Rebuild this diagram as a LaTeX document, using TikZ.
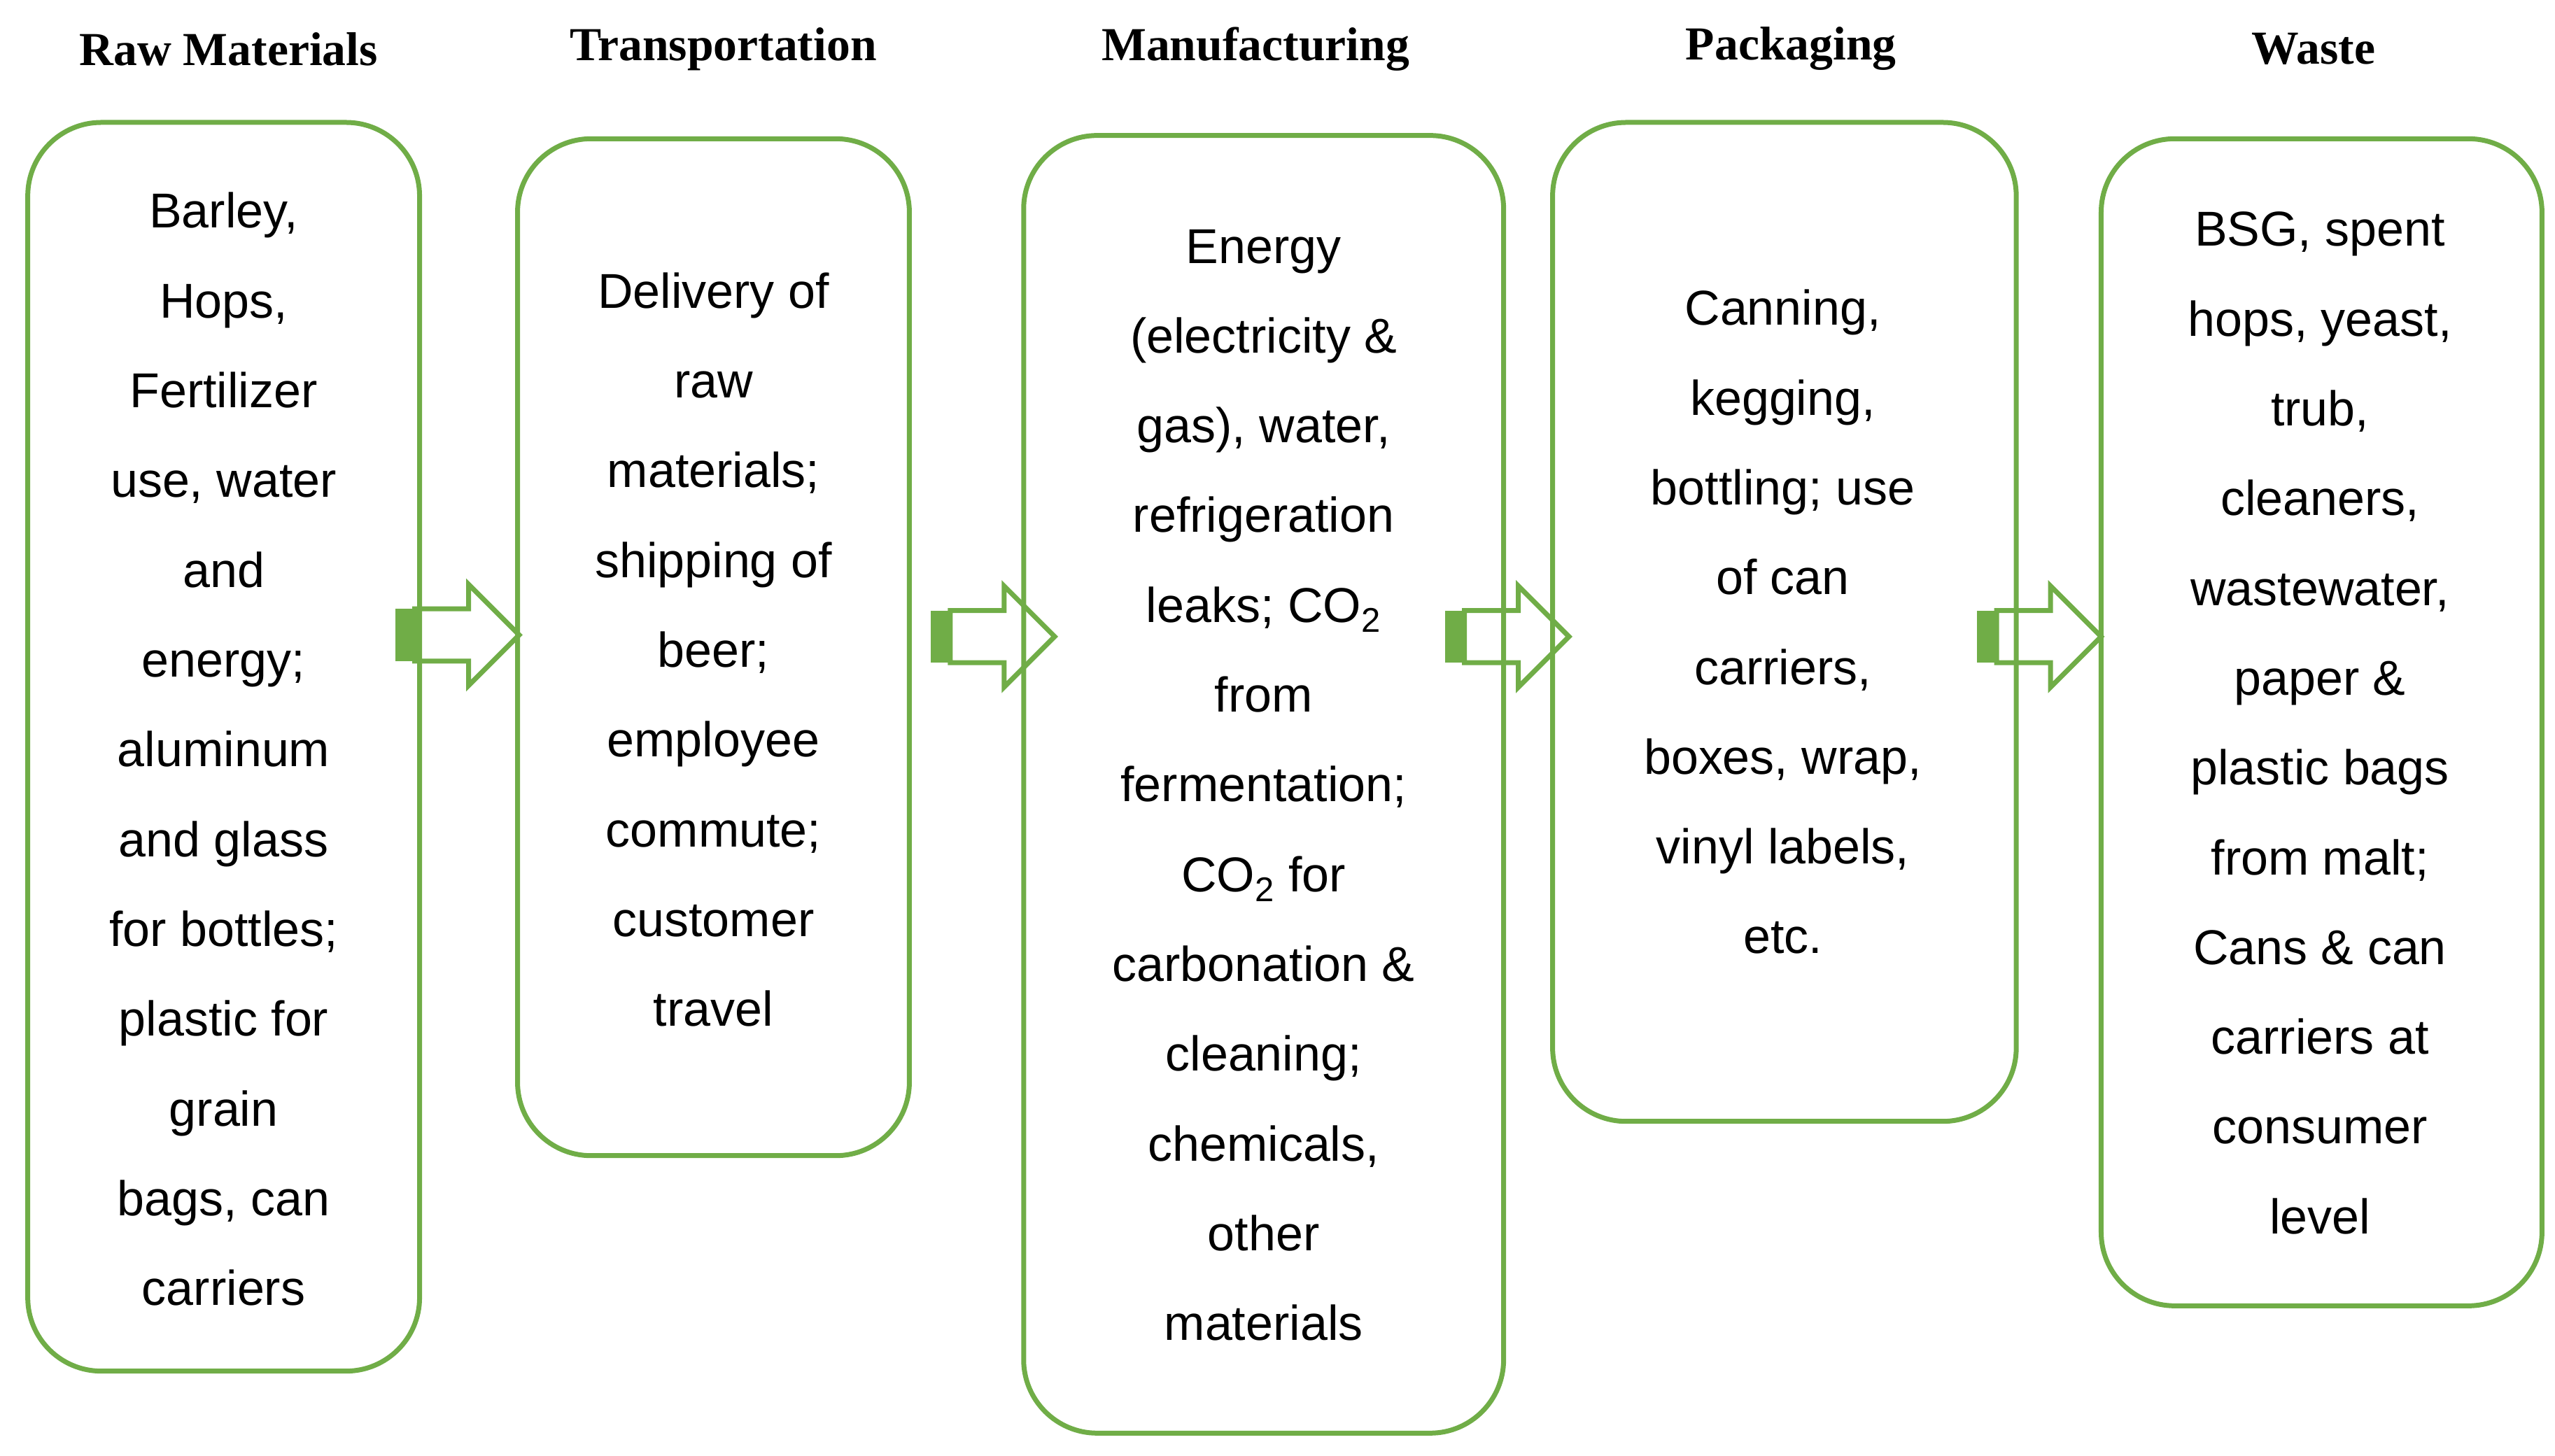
\documentclass[tikz,border=0pt]{standalone}
\usepackage{fontspec}
\setmainfont{Liberation Sans}
\newfontfamily\hdr{Liberation Serif}
\definecolor{gr}{HTML}{70AD47}
\begin{document}
\begin{tikzpicture}[x=1pt,y=-1pt,
 box/.style={draw=gr,line width=3pt,rounded corners=45pt},
 txt/.style={align=center,font=\fontsize{30}{55}\selectfont,inner sep=0},
 hd/.style={font=\hdr\bfseries\fontsize{29}{34}\selectfont,inner sep=0},
 pics/barrow/.style={code={
   \fill[gr] (0,-16) rectangle (12,16);
   \draw[gr,line width=3pt,line join=miter] (12,-16) -- (45,-16) -- (45,-31) -- (76,0) -- (45,31) -- (45,16) -- (12,16) -- cycle;}}]
\useasboundingbox (0,0) rectangle (1565,892);
\foreach \n/\xa/\ya/\xb/\yb in {b1/17/75/257/840,b2/317/85/557/708,b3/627/83/921/878,b4/951/75/1235/687,b5/1287/85/1557/800}
  \draw[box] (\xa,\ya) rectangle (\xb,\yb) coordinate (\n);
\node[hd] (h1) at (140,30) {Raw Materials};
\node[hd] (h2) at (443,30) {Transportation};
\node[hd] (h3) at (769,30) {Manufacturing};
\node[hd] (h4) at (1097,30) {Packaging};
\node[hd] (h5) at (1417,30) {Waste};
\node[txt] (t1) at (137,459) {Barley,\\Hops,\\Fertilizer\\use, water\\and\\energy;\\aluminum\\and glass\\for bottles;\\plastic for\\grain\\bags, can\\carriers};
\node[txt] (t2) at (437,398) {Delivery of\\raw\\materials;\\shipping of\\beer;\\employee\\commute;\\customer\\travel};
\node[txt] (t3) at (774,481) {Energy\\(electricity \&\\gas), water,\\refrigeration\\leaks; CO\textsubscript{2}\\from\\fermentation;\\CO\textsubscript{2} for\\carbonation \&\\cleaning;\\chemicals,\\other\\materials};
\node[txt] (t4) at (1092,381) {Canning,\\kegging,\\bottling; use\\of can\\carriers,\\boxes, wrap,\\vinyl labels,\\etc.};
\node[txt] (t5) at (1421,443) {BSG, spent\\hops, yeast,\\trub,\\cleaners,\\wastewater,\\paper \&\\plastic bags\\from malt;\\Cans \& can\\carriers at\\consumer\\level};
\pic at (242,389) {barrow};
\pic at (570,390) {barrow};
\pic at (885,390) {barrow};
\pic at (1211,390) {barrow};
\end{tikzpicture}
\end{document}
